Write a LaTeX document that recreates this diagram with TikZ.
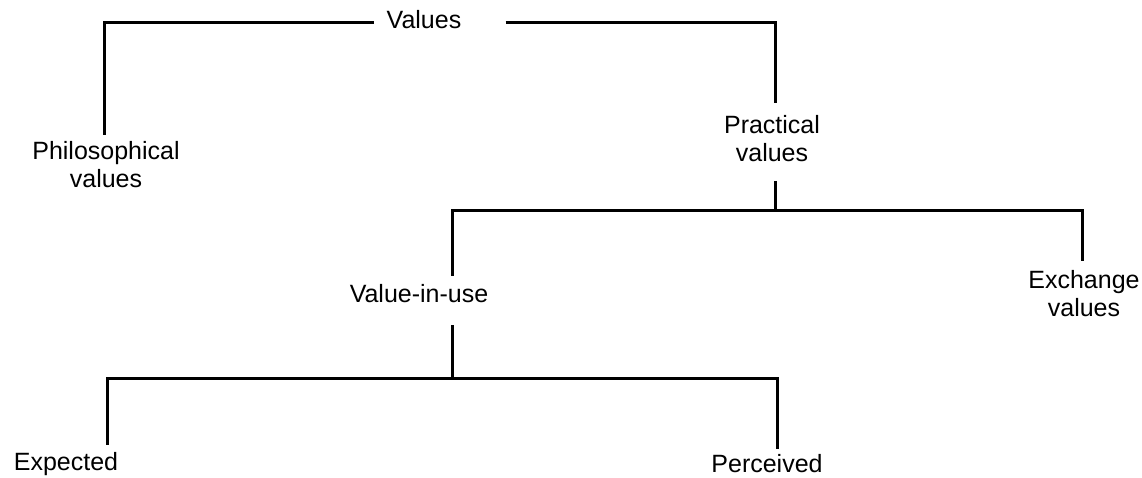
\documentclass[tikz,border=0pt]{standalone}
\usepackage{fontspec}
\setmainfont{Liberation Sans}
\begin{document}
\begin{tikzpicture}[x=1pt,y=-1pt,
  lbl/.style={inner sep=0pt, font=\fontsize{25}{28}\selectfont},
  lbltwo/.style={lbl, align=center, anchor=north},
  branch/.style={line width=3pt, line join=miter, black}]
\useasboundingbox (0,0) rectangle (1142,477);

% labels
\node[lbl, text height=18pt, text depth=6pt] (values) at (424,22) {Values};
\node[lbltwo] (phil) at (106,141) {Philosophical\\values};
\node[lbltwo] (prac) at (772,115) {Practical\\values};
\node[lbl, anchor=base] (viu) at (419,302) {Value-in-use};
\node[lbltwo] (exch) at (1084,270) {Exchange\\values};
\node[lbl, anchor=base] (expd) at (66,470) {Expected};
\node[lbl, anchor=base] (perc) at (767,472) {Perceived};

% junctions of the lower branches
\coordinate (jA) at (775,210);
\coordinate (jB) at (452,378);

% top level
\draw[branch, shorten <=13pt] (values.west) -| ([xshift=-2pt,yshift=6pt]phil.north);
\draw[branch, shorten <=44pt] (values.east) -| ([xshift=3pt,yshift=12pt]prac.north);

% practical values
\draw[branch] ([xshift=3pt,yshift=-19pt]prac.south) -- (jA);
\draw[branch] ([xshift=33pt,yshift=8pt]viu.north) |- (jA) -| ([xshift=-2pt,yshift=9pt]exch.north);

% value-in-use
\draw[branch] ([xshift=33pt,yshift=-23pt]viu.south) -- (jB);
\draw[branch] ([xshift=41pt,yshift=7pt]expd.north) |- (jB) -| ([xshift=10pt,yshift=5pt]perc.north);
\end{tikzpicture}
\end{document}
